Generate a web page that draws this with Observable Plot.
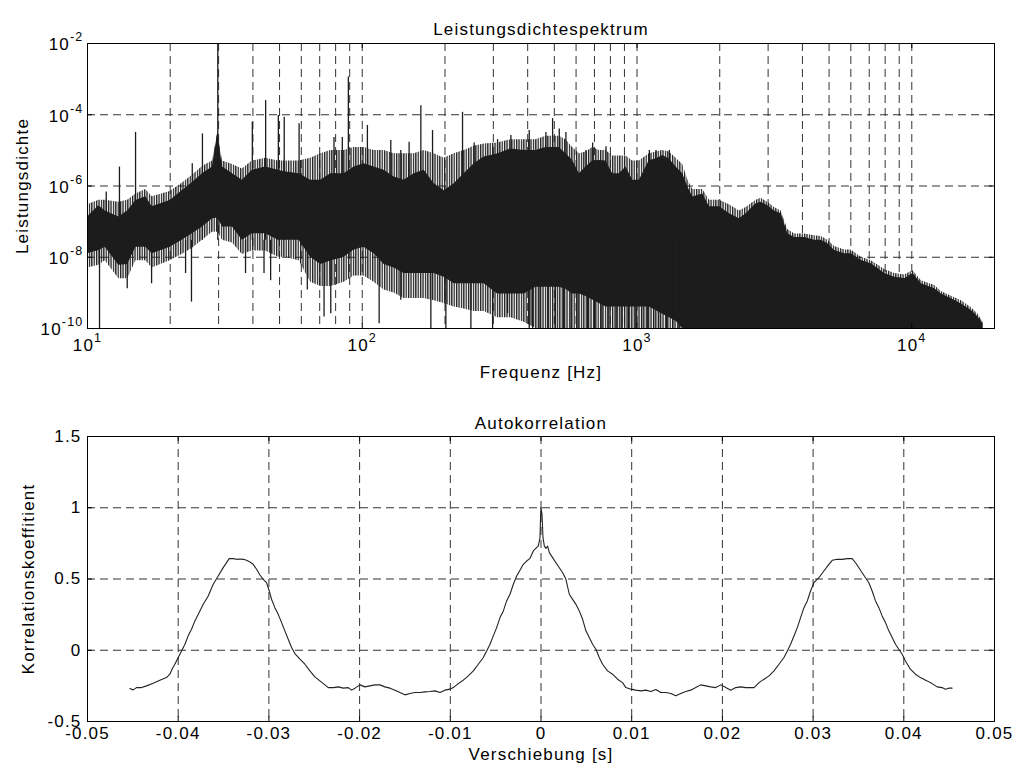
<!DOCTYPE html>
<html>
<head>
<meta charset="utf-8">
<script src="https://cdn.jsdelivr.net/npm/d3@7"></script>
<script src="https://cdn.jsdelivr.net/npm/@observablehq/plot@0.6"></script>
<style>
  body { margin: 0; background: #fff; }
  #chart { width: 1017px; height: 773px; background: #fff; }
  #chart svg { display: block; }
</style>
</head>
<body>
<div id="chart"></div>
<script>
// ---------- Leistungsdichtespektrum ----------
// frequency grid [Hz] at which the spectrum's extent was read
const specFreq = [10, 11, 11.6, 13, 14, 15, 16.3, 17.2, 20, 22.1, 24.1, 26.2, 28.5, 29.8, 31, 33.7, 36.6, 39.8, 44.5, 49.5, 52, 58.9,
  64.9, 70.6, 76.8, 85.9, 93.4, 101.5, 110.4, 120.1, 130.6, 142, 154.5, 168, 182.7, 198.7, 216.1, 235, 255.5, 277.9, 310.8, 347.5, 388.6,
  428.5, 466.1, 521.2, 551.1, 582.9, 616.5, 652, 689.6, 729.1, 771, 815.4, 862.3, 911.9, 964.3, 1019.8, 1108.8, 1172.5, 1240.1, 1311.3,
  1386.8, 1466.5, 1529.7, 1596, 1734.7, 1834.5, 1995, 2170, 2359, 2495, 2713, 2829, 2992, 3164, 3346, 3539, 3743, 4071, 4428, 4682,
  4951, 5236, 5693, 6021, 6549, 7122, 7966, 8662, 9419, 10100, 10832, 12115, 12811, 13938, 15155, 16480, 17428, 18170];
// solid core of the trace: upper and lower edge
const specHi = [1.35e-7, 2.8e-7, 2.0e-7, 1.35e-7, 2.0e-7, 3.9e-7, 5.0e-7, 2.6e-7, 3.9e-7, 7.4e-7, 1.26e-6, 2.2e-6, 3.4e-6, 3.2e-5, 3.4e-6, 2.2e-6, 1.45e-6, 2.75e-6, 3.4e-6, 2.75e-6, 2.5e-6, 2.2e-6,
  1.45e-6, 1.45e-6, 2.2e-6, 2.2e-6, 3.4e-6, 4.2e-6, 3.4e-6, 2.75e-6, 1.8e-6, 1.45e-6, 2.2e-6, 2.75e-6, 1.15e-6, 7.4e-7, 1.15e-6, 2.2e-6, 4.2e-6, 6.5e-6, 7.9e-6, 1.1e-5, 1e-5,
  1e-5, 1.2e-5, 1.2e-5, 8e-6, 5.2e-6, 2.2e-6, 3.4e-6, 5e-6, 5.2e-6, 5e-6, 2.2e-6, 2.2e-6, 3.4e-6, 1.45e-6, 1.45e-6, 5.2e-6, 5.75e-6, 7.2e-6, 5.75e-6,
  3.4e-6, 2.2e-6, 9.3e-7, 4.9e-7, 6e-7, 2.6e-7, 2.6e-7, 1.66e-7, 1.2e-7, 1.66e-7, 3.16e-7, 3.5e-7, 2.8e-7, 2.0e-7, 1.66e-7, 4.6e-8, 3.6e-8, 3.6e-8, 3.0e-8, 3.0e-8,
  2.4e-8, 1.55e-8, 1.26e-8, 1.26e-8, 8.1e-9, 6.6e-9, 3.5e-9, 2.75e-9, 2.5e-9, 3.5e-9, 1.8e-9, 1.3e-9, 9.3e-10, 6.8e-10, 4.9e-10, 3.2e-10, 2.1e-10, 1.35e-10];
const specLo = [1.26e-8, 1.55e-8, 1.9e-8, 6e-9, 6.3e-9, 1.9e-8, 1.9e-8, 1.26e-8, 1.9e-8, 3.0e-8, 4.6e-8, 7.1e-8, 1.2e-7, 1.26e-7, 7.1e-8, 7.1e-8, 3.0e-8, 4.6e-8, 4.6e-8, 3.0e-8, 3.0e-8, 3.0e-8,
  1e-8, 6.3e-9, 7.9e-9, 1e-8, 1.6e-8, 1.9e-8, 1.26e-8, 6.3e-9, 5e-9, 3.5e-9, 3.5e-9, 3.5e-9, 3.5e-9, 2.75e-9, 1.8e-9, 1.8e-9, 1.8e-9, 1.8e-9, 9.3e-10, 9.3e-10, 9.3e-10,
  1.45e-9, 1.45e-9, 1.45e-9, 1.26e-9, 9.3e-10, 9.3e-10, 7.9e-10, 6.3e-10, 5e-10, 4e-10, 4e-10, 4e-10, 4e-10, 4e-10, 4e-10, 4e-10, 3.2e-10, 2.5e-10, 2e-10,
  1.6e-10, 1e-10, 1e-10, 1e-10, 1e-10, 1e-10, 1e-10, 1e-10, 1e-10, 1e-10, 1e-10, 1e-10, 1e-10, 1e-10, 1e-10, 1e-10, 1e-10, 1e-10, 1e-10, 1e-10,
  1e-10, 1e-10, 1e-10, 1e-10, 1e-10, 1e-10, 1e-10, 1e-10, 1e-10, 1e-10, 1e-10, 1e-10, 1e-10, 1e-10, 1e-10, 1e-10, 1e-10, 1e-10];
// fringe reached by the many single lines around the core: upper and lower edge
const specMax = [3e-7, 4e-7, 4e-7, 3.5e-7, 4e-7, 6e-7, 8e-7, 5e-7, 7e-7, 1.2e-6, 2e-6, 3.5e-6, 5e-6, 3.2e-5, 5e-6, 4e-6, 3e-6, 5e-6, 6e-6, 5e-6, 5e-6, 5e-6,
  6e-6, 8e-6, 1e-5, 1e-5, 1.2e-5, 1.2e-5, 1e-5, 1e-5, 8e-6, 8e-6, 8e-6, 1e-5, 8e-6, 6e-6, 8e-6, 1e-5, 1.3e-5, 1.5e-5, 1.6e-5, 2e-5, 2e-5,
  2e-5, 2.5e-5, 2.5e-5, 2e-5, 1.2e-5, 8e-6, 9e-6, 1.2e-5, 1e-5, 1e-5, 7e-6, 7e-6, 7e-6, 5e-6, 5e-6, 8e-6, 9e-6, 1e-5, 9e-6,
  6e-6, 4e-6, 1.5e-6, 8e-7, 8e-7, 4e-7, 4e-7, 3e-7, 2e-7, 2.5e-7, 4e-7, 4.5e-7, 3.5e-7, 2.5e-7, 2e-7, 6e-8, 4.5e-8, 4.5e-8, 4e-8, 3.8e-8,
  3e-8, 2e-8, 1.6e-8, 1.6e-8, 1e-8, 8e-9, 4.5e-9, 3.5e-9, 3.2e-9, 4.2e-9, 2.2e-9, 1.6e-9, 1.1e-9, 8e-10, 6e-10, 3.8e-10, 2.5e-10, 1.5e-10];
const specMin = [5e-9, 6e-9, 8e-9, 2.5e-9, 2.5e-9, 8e-9, 8e-9, 5e-9, 8e-9, 1.2e-8, 1.8e-8, 3e-8, 5e-8, 5e-8, 3e-8, 2.5e-8, 1.2e-8, 1.5e-8, 1.5e-8, 1e-8, 1e-8, 8e-9,
  2e-9, 1.5e-9, 1.5e-9, 2e-9, 3e-9, 3e-9, 2e-9, 1.2e-9, 1e-9, 7e-10, 7e-10, 7e-10, 6e-10, 5e-10, 4e-10, 3.5e-10, 3e-10, 3e-10, 2e-10, 2e-10, 1.5e-10,
  1e-10, 1e-10, 1e-10, 1e-10, 1e-10, 1e-10, 1e-10, 1e-10, 1e-10, 1e-10, 1e-10, 1e-10, 1e-10, 1e-10, 1e-10, 1e-10, 1e-10, 1e-10, 1e-10,
  1e-10, 1e-10, 1e-10, 1e-10, 1e-10, 1e-10, 1e-10, 1e-10, 1e-10, 1e-10, 1e-10, 1e-10, 1e-10, 1e-10, 1e-10, 1e-10, 1e-10, 1e-10, 1e-10, 1e-10,
  1e-10, 1e-10, 1e-10, 1e-10, 1e-10, 1e-10, 1e-10, 1e-10, 1e-10, 1e-10, 1e-10, 1e-10, 1e-10, 1e-10, 1e-10, 1e-10, 1e-10, 1e-10];
// isolated lines rising above the fringe
const spikeFreq = [11.7, 13.07, 14.96, 24.06, 26.2, 29.8, 39.8, 44.5, 49.5, 52, 58.9, 78.9, 84.6, 89, 104.4, 127, 138.1, 148.1, 163.4, 180.2,
  231.7, 255.5, 310.8, 347.5, 405.2, 466.1, 492.9, 521.2, 551.1, 652, 689.6, 771, 1108.8, 1172.5, 1311.3];
const spikeTop = [6.8e-7, 3.4e-6, 3.2e-5, 4.2e-6, 2.9e-5, 1e-2, 6.2e-5, 2.5e-4, 9.5e-5, 8.5e-5, 5.6e-5, 2.3e-5, 2.3e-5, 1.15e-3, 5e-5, 1.9e-5, 1e-5, 1.7e-5, 1.8e-4, 3.6e-5,
  1.17e-4, 1.6e-5, 2e-5, 2.6e-5, 3.6e-5, 3.2e-5, 7.8e-5, 4e-5, 3.2e-5, 1e-5, 1.6e-5, 1.26e-5, 1e-5, 1e-5, 1e-5];
// isolated lines falling below the fringe
const dipFreq = [11.06, 13.95, 17.11, 22.75, 23.9, 37.6, 43.9, 46.4, 63.1, 72.6, 76.8, 115.2, 138.1, 177.7, 201.5, 248.5, 298.1, 338, 405.2, 416.8,
  440, 475, 505, 540, 575, 610, 660, 700, 745, 790, 840, 880, 930, 985, 1040, 1090, 1150, 1200, 1280, 1350, 1420];
const dipBottom = [1e-10, 1.3e-9, 1.8e-9, 3.5e-9, 5.5e-10, 3.5e-9, 3.5e-9, 2.2e-9, 1.2e-9, 2.1e-10, 2.6e-10, 1.35e-10, 6.2e-10, 1e-10, 1e-10, 1e-10, 1e-10, 2.6e-10, 1e-10, 1e-10,
  1e-10, 1e-10, 1e-10, 1e-10, 1e-10, 1e-10, 1e-10, 1e-10, 1e-10, 1e-10, 1e-10, 1e-10, 1e-10, 1e-10, 1e-10, 1e-10, 1e-10, 1e-10, 1e-10, 1e-10, 1e-10];
const lineBase = 3e-8; // level inside the core where the isolated lines start

// ---------- Autokorrelation ----------
const lagS = [-0.04533, -0.04496, -0.0446, -0.04404, -0.04349, -0.04276, -0.04202, -0.04129, -0.04092, -0.04063, -0.04037, -0.04, -0.03963, -0.03926,
  -0.0389, -0.03853, -0.03816, -0.03779, -0.03724, -0.03669, -0.03614, -0.03559, -0.03504, -0.03467, -0.03438, -0.03393, -0.03357, -0.0332, -0.03283,
  -0.03246, -0.0321, -0.03173, -0.03136, -0.03099, -0.03063, -0.03026, -0.02996, -0.02971, -0.02934, -0.02897, -0.0286, -0.02824, -0.02787, -0.0275,
  -0.02713, -0.02658, -0.02603, -0.02548, -0.02493, -0.02438, -0.02382, -0.02346, -0.0229, -0.02235, -0.0218, -0.02125, -0.02088, -0.02051, -0.01996,
  -0.01941, -0.01886, -0.01831, -0.01776, -0.01721, -0.01665, -0.0161, -0.01555, -0.015, -0.01445, -0.0139, -0.01335, -0.0128, -0.01224, -0.01169,
  -0.01114, -0.01059, -0.01004, -0.00967, -0.00912, -0.00857, -0.00801, -0.00746, -0.00691, -0.00636, -0.00599, -0.00562, -0.00526, -0.00489, -0.00452,
  -0.00415, -0.00379, -0.00342, -0.00305, -0.00268, -0.00232, -0.00195, -0.00158, -0.00121, -0.00085, -0.00048, -0.00029, -0.00011, -0.00004, 0,
  0.00011, 0.00022, 0.00037, 0.00055, 0.00073, 0.00092, 0.00128, 0.00165, 0.00202, 0.00239, 0.00275, 0.00312, 0.00349, 0.00385, 0.00422, 0.00459,
  0.00495, 0.00532, 0.00569, 0.00606, 0.00642, 0.00679, 0.00734, 0.00789, 0.00844, 0.00899, 0.00936, 0.00991, 0.01046, 0.01101, 0.01156, 0.01211,
  0.01266, 0.01321, 0.01376, 0.01431, 0.01486, 0.01541, 0.01596, 0.01651, 0.01706, 0.01761, 0.01817, 0.01872, 0.01927, 0.01982, 0.02037, 0.02092,
  0.02147, 0.02202, 0.02257, 0.02312, 0.02349, 0.02404, 0.02459, 0.02514, 0.02569, 0.02624, 0.02679, 0.02716, 0.02752, 0.02789, 0.02826, 0.02862,
  0.02899, 0.02936, 0.02972, 0.03009, 0.03064, 0.03119, 0.03174, 0.03211, 0.03266, 0.03321, 0.03376, 0.03431, 0.03468, 0.03505, 0.03541, 0.03578,
  0.03615, 0.03651, 0.03688, 0.03725, 0.03761, 0.03798, 0.03835, 0.03872, 0.03908, 0.03945, 0.03982, 0.04018, 0.04073, 0.04128, 0.04183, 0.04257,
  0.04312, 0.04367, 0.04422, 0.04459, 0.04495, 0.04532];
const corrCoef = [-0.269, -0.278, -0.262, -0.262, -0.25, -0.231, -0.21, -0.192, -0.168, -0.126, -0.098, -0.051, -0.005, 0.042,
  0.101, 0.147, 0.206, 0.252, 0.323, 0.381, 0.463, 0.521, 0.58, 0.615, 0.643, 0.643, 0.638, 0.64, 0.638,
  0.631, 0.619, 0.603, 0.568, 0.528, 0.498, 0.475, 0.416, 0.358, 0.299, 0.252, 0.194, 0.136, 0.077, 0.019,
  -0.023, -0.063, -0.098, -0.145, -0.187, -0.215, -0.243, -0.262, -0.262, -0.257, -0.266, -0.262, -0.28, -0.266, -0.243,
  -0.257, -0.25, -0.243, -0.243, -0.257, -0.266, -0.28, -0.297, -0.313, -0.304, -0.297, -0.297, -0.292, -0.29, -0.285,
  -0.297, -0.28, -0.273, -0.262, -0.234, -0.21, -0.18, -0.145, -0.098, -0.051, -0.005, 0.042, 0.101, 0.159, 0.229,
  0.276, 0.346, 0.393, 0.463, 0.521, 0.561, 0.603, 0.626, 0.645, 0.697, 0.72, 0.732, 0.79, 0.954, 1.0,
  0.953, 0.79, 0.731, 0.715, 0.731, 0.685, 0.65, 0.614, 0.579, 0.544, 0.498, 0.393, 0.357, 0.322, 0.276, 0.217,
  0.136, 0.089, 0.042, 0.007, -0.051, -0.098, -0.145, -0.168, -0.203, -0.227, -0.262, -0.273, -0.28, -0.285, -0.28, -0.29,
  -0.276, -0.297, -0.297, -0.304, -0.32, -0.304, -0.29, -0.28, -0.262, -0.243, -0.25, -0.257, -0.262, -0.243, -0.262, -0.28,
  -0.262, -0.257, -0.262, -0.262, -0.262, -0.227, -0.203, -0.18, -0.145, -0.098, -0.051, -0.005, 0.042, 0.1, 0.159, 0.229,
  0.299, 0.346, 0.416, 0.474, 0.509, 0.556, 0.603, 0.631, 0.638, 0.638, 0.643, 0.643, 0.614, 0.579, 0.544, 0.509,
  0.474, 0.416, 0.346, 0.299, 0.241, 0.194, 0.136, 0.089, 0.042, 0.007, -0.028, -0.075, -0.133, -0.168, -0.192, -0.215,
  -0.234, -0.257, -0.262, -0.273, -0.266, -0.266];

// ---------- ticks, grid and texts ----------
const topXTicks = [10, 100, 1000, 10000];
const topXExp = ["1", "2", "3", "4"];
const topYTicks = [1e-10, 1e-8, 1e-6, 1e-4, 1e-2];
const topYExp = ["-10", "-8", "-6", "-4", "-2"];
const topXGrid = [20, 30, 40, 50, 60, 70, 80, 90, 100, 200, 300, 400, 500, 600, 700, 800, 900, 1000,
  2000, 3000, 4000, 5000, 6000, 7000, 8000, 9000, 10000];
const topYGrid = [1e-8, 1e-6, 1e-4];
const botXTicks = [-0.05, -0.04, -0.03, -0.02, -0.01, 0, 0.01, 0.02, 0.03, 0.04, 0.05];
const botXLabels = ["-0.05", "-0.04", "-0.03", "-0.02", "-0.01", "0", "0.01", "0.02", "0.03", "0.04", "0.05"];
const botYTicks = [-0.5, 0, 0.5, 1, 1.5];
const botYLabels = ["-0.5", "0", "0.5", "1", "1.5"];
const botXGrid = [-0.04, -0.03, -0.02, -0.01, 0, 0.01, 0.02, 0.03, 0.04];
const botYGrid = [0, 0.5, 1];
const title1 = "Leistungsdichtespektrum", xLabel1 = "Frequenz [Hz]", yLabel1 = "Leistungsdichte";
const title2 = "Autokorrelation", xLabel2 = "Verschiebung [s]", yLabel2 = "Korrelationskoeffitient";

// ---------- build ----------
const FONT = '"Liberation Sans", Arial, Helvetica, sans-serif';
const FS = 17;
const svgStyle = {fontFamily: FONT, fontSize: FS + "px", letterSpacing: "1.2px", background: "#fff", color: "#000"};
const gridStyle = {stroke: "#333", strokeWidth: 1, strokeDasharray: "8,5"};
const INK = "#1c1c1c";

const band = specFreq.map((f, i) => ({f, hi: specHi[i], lo: specLo[i], max: specMax[i], min: specMin[i]}));
const spikes = spikeFreq.map((f, i) => ({f, top: spikeTop[i]}));
const dips = dipFreq.map((f, i) => ({f, bottom: dipBottom[i]}));
const corr = lagS.map((t, i) => ({t, r: corrCoef[i]}));

const W = 1017;
const topH = 390, topMT = 43, topMB = 62, ML = 87, MR = 23;
const botH = 383, botMT = 46, botMB = 52;
const txt = {fontSize: FS, fill: "#000"};

const topPlot = Plot.plot({
  width: W, height: topH,
  marginLeft: ML, marginRight: MR, marginTop: topMT, marginBottom: topMB,
  style: svgStyle,
  x: {type: "log", domain: [10, 20000], axis: null},
  y: {type: "log", domain: [1e-10, 1e-2], axis: null},
  marks: [
    Plot.ruleX(topXGrid, {x: d => d, ...gridStyle}),
    Plot.ruleY(topYGrid, {y: d => d, ...gridStyle}),
    Plot.areaY(band, {x: "f", y1: "min", y2: "max", fill: "url(#psd-lines)", curve: "linear", clip: true}),
    Plot.areaY(band, {x: "f", y1: "lo", y2: "hi", fill: INK, curve: "linear", clip: true}),
    Plot.ruleX(spikes, {x: "f", y1: lineBase, y2: "top", stroke: INK, strokeWidth: 1.3, clip: true}),
    Plot.ruleX(dips, {x: "f", y1: lineBase, y2: "bottom", stroke: INK, strokeWidth: 1.3, clip: true}),
    Plot.tickY(topYTicks, {y: d => d, stroke: "#000", insetRight: W - ML - MR - 5}),
    Plot.tickY(topYTicks, {y: d => d, stroke: "#000", insetLeft: W - ML - MR - 5}),
    Plot.tickX(topXTicks, {x: d => d, stroke: "#000", insetTop: topH - topMT - topMB - 5}),
    Plot.tickX(topXTicks, {x: d => d, stroke: "#000", insetBottom: topH - topMT - topMB - 5}),
    Plot.frame({stroke: "#000", strokeWidth: 1}),
    Plot.text(topXTicks, {x: d => d, text: (d, i) => "10^" + topXExp[i], frameAnchor: "bottom", lineAnchor: "top", dy: 10, ...txt}),
    Plot.text(topYTicks, {y: d => d, text: (d, i) => "10^" + topYExp[i], frameAnchor: "left", textAnchor: "end", dx: -4, dy: 1.5, ...txt}),
    Plot.text([title1], {text: d => d, frameAnchor: "top", textAnchor: "middle", dy: -21, ...txt}),
    Plot.text([xLabel1], {text: d => d, frameAnchor: "bottom", textAnchor: "middle", dy: 49.6, ...txt}),
    Plot.text([yLabel1], {text: d => d, frameAnchor: "left", textAnchor: "middle", rotate: -90, dx: -65, ...txt})
  ]
});

const botPlot = Plot.plot({
  width: W, height: botH,
  marginLeft: ML, marginRight: MR, marginTop: botMT, marginBottom: botMB,
  style: svgStyle,
  x: {domain: [-0.05, 0.05], axis: null},
  y: {domain: [-0.5, 1.5], axis: null},
  marks: [
    Plot.ruleX(botXGrid, {x: d => d, ...gridStyle}),
    Plot.ruleY(botYGrid, {y: d => d, ...gridStyle}),
    Plot.line(corr, {x: "t", y: "r", stroke: "#222", strokeWidth: 1.1, curve: "linear"}),
    Plot.tickY(botYTicks, {y: d => d, stroke: "#000", insetRight: W - ML - MR - 5}),
    Plot.tickY(botYTicks, {y: d => d, stroke: "#000", insetLeft: W - ML - MR - 5}),
    Plot.tickX(botXTicks, {x: d => d, stroke: "#000", insetTop: botH - botMT - botMB - 5}),
    Plot.tickX(botXTicks, {x: d => d, stroke: "#000", insetBottom: botH - botMT - botMB - 5}),
    Plot.frame({stroke: "#000", strokeWidth: 1}),
    Plot.text(botXTicks, {x: d => d, text: (d, i) => botXLabels[i], frameAnchor: "bottom", lineAnchor: "top", dy: 5, ...txt}),
    Plot.text(botYTicks, {y: d => d, text: (d, i) => botYLabels[i], frameAnchor: "left", textAnchor: "end", dx: -6, ...txt}),
    Plot.text([title2], {text: d => d, frameAnchor: "top", textAnchor: "middle", dy: -19.7, ...txt}),
    Plot.text([xLabel2], {text: d => d, frameAnchor: "bottom", textAnchor: "middle", dy: 38.6, ...txt}),
    Plot.text([yLabel2], {text: d => d, frameAnchor: "left", textAnchor: "middle", rotate: -90, dx: -58.5, ...txt})
  ]
});

const ns = "http://www.w3.org/2000/svg";
// texture of densely packed vertical trace lines for the fringe of the spectrum
(function addPattern(svg) {
  const defs = document.createElementNS(ns, "defs");
  const pat = document.createElementNS(ns, "pattern");
  pat.setAttribute("id", "psd-lines");
  pat.setAttribute("patternUnits", "userSpaceOnUse");
  pat.setAttribute("width", "2.4");
  pat.setAttribute("height", "8");
  const r = document.createElementNS(ns, "rect");
  r.setAttribute("x", "0"); r.setAttribute("y", "0");
  r.setAttribute("width", "1.3"); r.setAttribute("height", "8");
  r.setAttribute("fill", INK);
  pat.appendChild(r);
  defs.appendChild(pat);
  svg.insertBefore(defs, svg.firstChild);
})(topPlot);

// turn "10^n" tick labels into 10 with a raised exponent
function superscripts(svg) {
  svg.querySelectorAll("text").forEach(t => {
    const m = /^10\^(.+)$/.exec(t.textContent);
    if (!m) return;
    t.textContent = "";
    const base = document.createElementNS(ns, "tspan");
    base.textContent = "10";
    const exp = document.createElementNS(ns, "tspan");
    exp.textContent = m[1];
    exp.setAttribute("dy", "-9");
    exp.setAttribute("font-size", "12.5");
    t.appendChild(base);
    t.appendChild(exp);
  });
}
superscripts(topPlot);

const chart = document.getElementById("chart");
chart.appendChild(topPlot);
chart.appendChild(botPlot);
</script>
</body>
</html>
